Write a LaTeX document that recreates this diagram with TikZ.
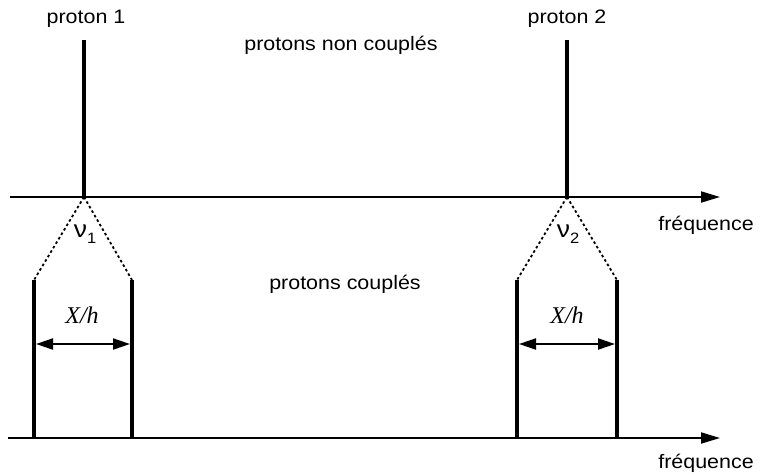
\documentclass[tikz,border=0pt]{standalone}
\usepackage{fontspec}
\setmainfont{Liberation Sans}[FakeStretch=1.1]
\newfontfamily\ital{Liberation Serif}
\usetikzlibrary{arrows.meta}
\begin{document}
\begin{tikzpicture}[x=1pt,y=-1pt,
  axis/.style={line width=2pt,-{Triangle[length=19pt,width=11pt]}},
  peak/.style={line width=3.6pt},
  dots/.style={line width=1.8pt,dash pattern=on 2.6pt off 2.6pt},
  dim/.style={line width=2pt,{Triangle[length=17pt,width=11pt]}-{Triangle[length=17pt,width=11pt]}},
  lbl/.style={font=\fontsize{19.5}{23}\selectfont,inner sep=0pt}]
\useasboundingbox (0,0) rectangle (760,475);
% axes
\coordinate (a1s) at (10,197);
\coordinate (a1e) at (720,197);
\coordinate (a2s) at (8,438);
\coordinate (a2e) at (720,438);
\draw[axis] (a1s) -- (a1e);
\draw[axis] (a2s) -- (a2e);
\node[lbl] (f1) at (706,225) {fréquence};
\node[lbl] (f2) at (706,463) {fréquence};
% uncoupled peaks
\coordinate (p1t) at (84,40);
\coordinate (p1b) at (84,197);
\coordinate (p2t) at (567,40);
\coordinate (p2b) at (567,197);
\draw[peak] (p1t) -- (p1b);
\draw[peak] (p2t) -- (p2b);
\node[lbl] (l1) at (86,19) {proton 1};
\node[lbl] (l2) at (567,19) {proton 2};
\node[lbl] (nc) at (341,45) {protons non couplés};
\node[lbl] (c) at (345,284) {protons couplés};
% coupled peaks
\coordinate (d1a) at (34,280); \coordinate (d1b) at (132,280);
\coordinate (d2a) at (517,280); \coordinate (d2b) at (617,280);
\coordinate (e1a) at (34,438); \coordinate (e1b) at (132,438);
\coordinate (e2a) at (517,438); \coordinate (e2b) at (617,438);
\draw[peak] (d1a) -- (e1a);
\draw[peak] (d1b) -- (e1b);
\draw[peak] (d2a) -- (e2a);
\draw[peak] (d2b) -- (e2b);
\draw[dots] (p1b) -- (d1a);
\draw[dots] (p1b) -- (d1b);
\draw[dots] (p2b) -- (d2a);
\draw[dots] (p2b) -- (d2b);
\node[lbl,font=\fontsize{24}{28}\selectfont] (n1) at (85,234) {ν\raisebox{-0.45ex}{\fontsize{15}{18}\selectfont 1}};
\node[lbl,font=\fontsize{24}{28}\selectfont] (n2) at (568,234) {ν\raisebox{-0.45ex}{\fontsize{15}{18}\selectfont 2}};
% splittings
\coordinate (h1a) at (36,344); \coordinate (h1b) at (130,344);
\coordinate (h2a) at (519,344); \coordinate (h2b) at (615,344);
\draw[dim] (h1a) -- (h1b);
\draw[dim] (h2a) -- (h2b);
\node[inner sep=0pt,font=\ital\itshape\fontsize{24}{28}\selectfont] (x1) at (82,315) {X/h};
\node[inner sep=0pt,font=\ital\itshape\fontsize{24}{28}\selectfont] (x2) at (567,315) {X/h};
\end{tikzpicture}
\end{document}
